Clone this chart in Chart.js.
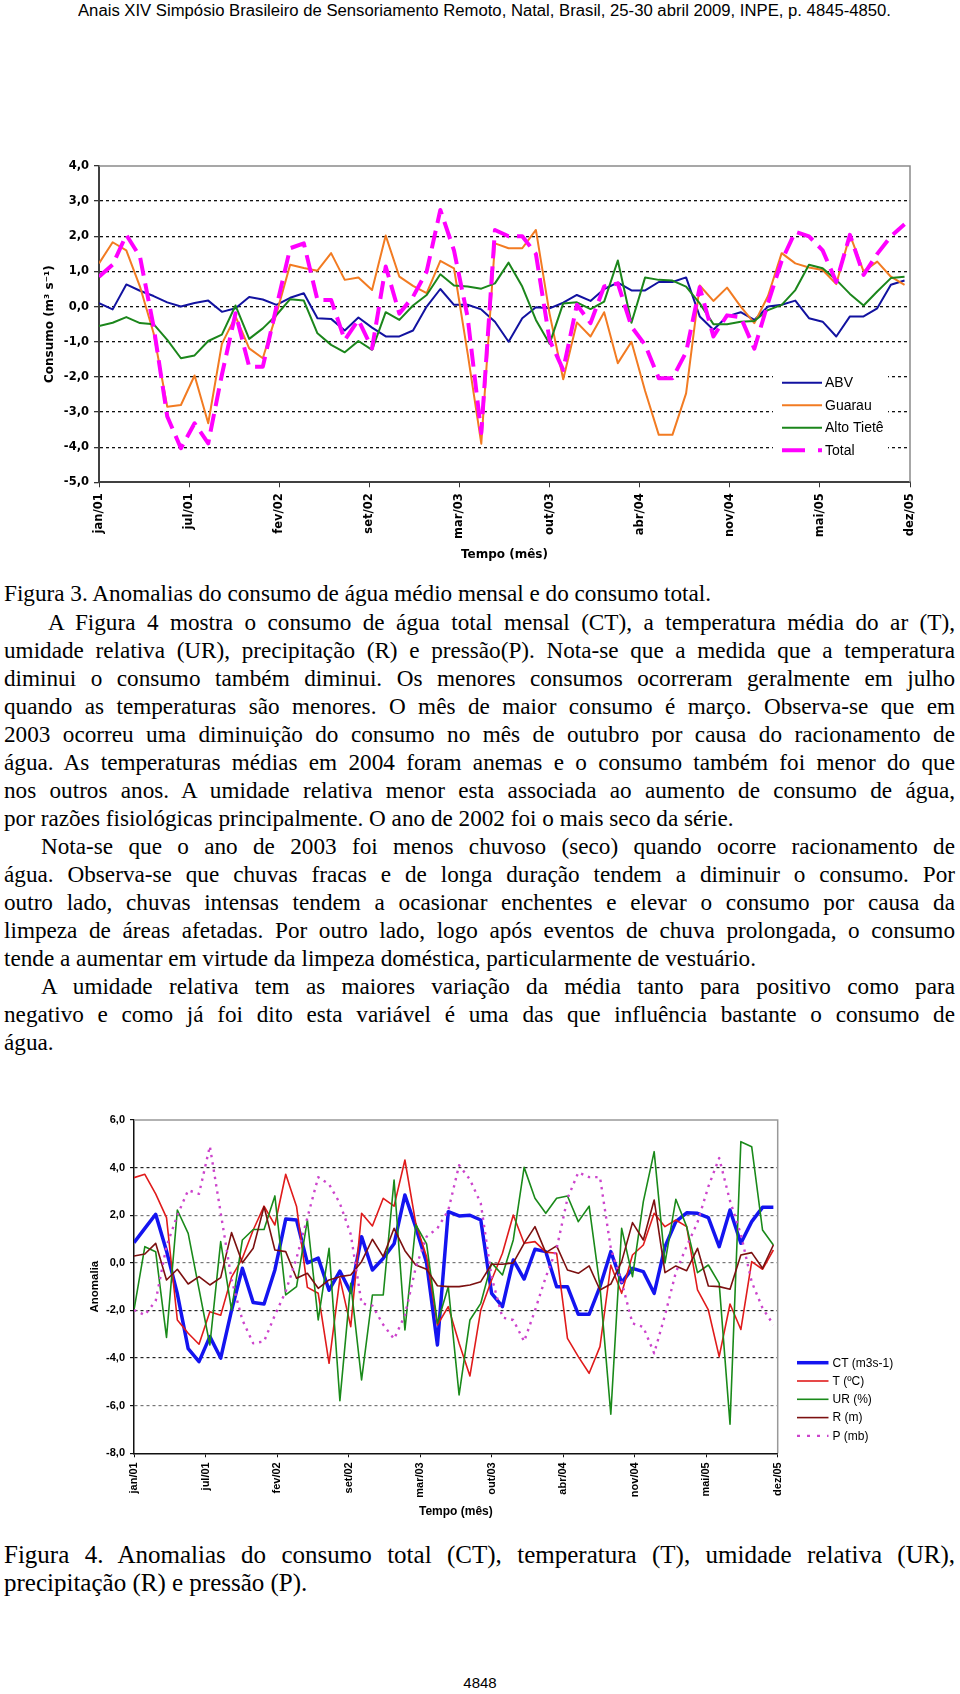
<!DOCTYPE html>
<html lang="pt-BR">
<head>
<meta charset="utf-8">
<title>Anomalias do consumo de água</title>
<script src="https://cdn.jsdelivr.net/npm/chart.js@4.4.1/dist/chart.umd.min.js"></script>
<style>
  html, body { margin: 0; padding: 0; background: #fff; }
  body { position: relative; width: 960px; height: 1694px; overflow: hidden; color: #000; }
  canvas { position: absolute; left: 0; }
  .linha { position: absolute; white-space: nowrap; font-family: "Liberation Serif", "Times New Roman", serif; font-size: 23.2px; line-height: 28px; }
  .legenda4 { font-size: 25px; }
  .cabecalho { position: absolute; left: 78px; top: 1px; white-space: nowrap; font-family: "Liberation Sans", Arial, sans-serif; font-size: 16px; line-height: 20px; transform-origin: 0 50%; }
  .pagina { position: absolute; left: 0; width: 960px; top: 1673px; text-align: center; font-family: "Liberation Sans", Arial, sans-serif; font-size: 15px; line-height: 20px; }
</style>
</head>
<body>

<div class="cabecalho" id="cabecalho">Anais XIV Simpósio Brasileiro de Sensoriamento Remoto, Natal, Brasil, 25-30 abril 2009, INPE, p. 4845-4850.</div>

<canvas id="fig3" width="960" height="440" style="top:130px"></canvas>

<div class="linha" style="left:4px; top:579px"><span>Figura 3. Anomalias do consumo de água médio mensal e do consumo total.</span></div>
<div class="linha" data-w="907" style="left:48px; top:608px"><span>A Figura 4 mostra o consumo de água total mensal (CT), a temperatura média do ar (T),</span></div>
<div class="linha" data-w="951" style="left:4px; top:636px"><span>umidade relativa (UR), precipitação (R) e pressão(P). Nota-se que a medida que a temperatura</span></div>
<div class="linha" data-w="951" style="left:4px; top:664px"><span>diminui o consumo também diminui. Os menores consumos ocorreram geralmente em julho</span></div>
<div class="linha" data-w="951" style="left:4px; top:692px"><span>quando as temperaturas são menores. O mês de maior consumo é março. Observa-se que em</span></div>
<div class="linha" data-w="951" style="left:4px; top:720px"><span>2003 ocorreu uma diminuição do consumo no mês de outubro por causa do racionamento de</span></div>
<div class="linha" data-w="951" style="left:4px; top:748px"><span>água. As temperaturas médias em 2004 foram anemas e o consumo também foi menor do que</span></div>
<div class="linha" data-w="951" style="left:4px; top:776px"><span>nos outros anos. A umidade relativa menor esta associada ao aumento de consumo de água,</span></div>
<div class="linha" style="left:4px; top:804px"><span>por razões fisiológicas principalmente. O ano de 2002 foi o mais seco da série.</span></div>
<div class="linha" data-w="914" style="left:41px; top:832px"><span>Nota-se que o ano de 2003 foi menos chuvoso (seco) quando ocorre racionamento de</span></div>
<div class="linha" data-w="951" style="left:4px; top:860px"><span>água. Observa-se que chuvas fracas e de longa duração tendem a diminuir o consumo. Por</span></div>
<div class="linha" data-w="951" style="left:4px; top:888px"><span>outro lado, chuvas intensas tendem a ocasionar enchentes e elevar o consumo por causa da</span></div>
<div class="linha" data-w="951" style="left:4px; top:916px"><span>limpeza de áreas afetadas. Por outro lado, logo após eventos de chuva prolongada, o consumo</span></div>
<div class="linha" style="left:4px; top:944px"><span>tende a aumentar em virtude da limpeza doméstica, particularmente de vestuário.</span></div>
<div class="linha" data-w="914" style="left:41px; top:972px"><span>A umidade relativa tem as maiores variação da média tanto para positivo como para</span></div>
<div class="linha" data-w="951" style="left:4px; top:1000px"><span>negativo e como já foi dito esta variável é uma das que influência bastante o consumo de</span></div>
<div class="linha" style="left:4px; top:1028px"><span>água.</span></div>

<canvas id="fig4" width="960" height="450" style="top:1080px"></canvas>

<div class="linha legenda4" data-w="951" style="left:4px; top:1541px"><span>Figura 4. Anomalias do consumo total (CT), temperatura (T), umidade relativa (UR),</span></div>
<div class="linha legenda4" style="left:4px; top:1569px"><span>precipitação (R) e pressão (P).</span></div>

<div class="pagina">4848</div>

<script>
// Figura 3 - anomalias do consumo (m3/s), mensal, jan/01 a dez/05
const ABV = [0.10, -0.08, 0.63, 0.45, 0.30, 0.12, 0.00, 0.10, 0.17, -0.15,
  -0.05, 0.27, 0.20, 0.05, 0.25, 0.38, -0.33, -0.35, -0.68, -0.31,
  -0.60, -0.85, -0.85, -0.68, 0.00, 0.50, 0.05, 0.05, -0.08, -0.43,
  -1.00, -0.33, -0.02, -0.05, 0.11, 0.33, 0.16, 0.50, 0.68, 0.46,
  0.46, 0.70, 0.70, 0.83, -0.28, -0.66, -0.28, -0.16, -0.38, 0.00,
  0.05, 0.17, -0.33, -0.43, -0.85, -0.28, -0.28, -0.05, 0.62, 0.74];
const GUARAU = [1.23, 1.83, 1.60, 0.57, -0.76, -2.85, -2.80, -1.96, -3.32, -1.06,
  -0.28, -1.19, -1.47, -0.20, 1.19, 1.10, 1.02, 1.52, 0.76, 0.83,
  0.47, 2.02, 0.85, 0.59, 0.38, 1.30, 1.09, -1.33, -3.90, 1.80,
  1.66, 1.66, 2.18, -0.20, -2.07, -0.45, -0.85, -0.16, -1.61, -1.00,
  -2.40, -3.65, -3.65, -2.47, 0.60, 0.16, 0.54, 0.00, -0.47, 0.30,
  1.52, 1.23, 1.11, 1.04, 0.64, 2.04, 1.00, 1.28, 0.85, 0.62];
const ALTO_TIETE = [-0.55, -0.46, -0.30, -0.47, -0.50, -0.95, -1.47, -1.39, -0.98, -0.80,
  0.03, -0.92, -0.62, -0.24, 0.21, 0.17, -0.76, -1.09, -1.30, -0.98,
  -1.23, -0.16, -0.38, 0.03, 0.33, 0.92, 0.60, 0.57, 0.51, 0.66,
  1.25, 0.57, -0.38, -1.06, 0.09, 0.12, -0.07, 0.14, 1.31, -0.46,
  0.83, 0.76, 0.74, 0.57, 0.09, -0.50, -0.50, -0.43, -0.41, -0.10,
  0.05, 0.47, 1.19, 1.09, 0.76, 0.36, 0.03, 0.43, 0.81, 0.85];
const TOTAL = [0.85, 1.19, 2.04, 1.42, -0.57, -3.13, -4.03, -3.32, -3.89, -1.94,
  -0.19, -1.71, -1.71, 0.00, 1.66, 1.80, 0.19, 0.19, -0.95, -0.38,
  -1.19, 1.14, -0.20, 0.28, 1.00, 2.75, 1.60, -0.30, -3.60, 2.18,
  2.00, 2.00, 1.50, -0.95, -1.80, 0.05, -0.47, 0.57, 0.66, -0.57,
  -1.09, -2.04, -2.04, -1.30, 0.55, -0.85, -0.25, -0.30, -1.20, 0.10,
  1.30, 2.13, 2.00, 1.60, 0.70, 2.04, 0.90, 1.50, 2.00, 2.34];

// Figura 4 - anomalias do consumo total e das variaveis meteorologicas
const CT = [0.85, 1.45, 2.04, 0.50, -1.30, -3.60, -4.15, -3.10, -4.00, -2.00,
  -0.23, -1.67, -1.73, -0.30, 1.84, 1.80, 0.00, 0.20, -1.15, -0.35,
  -1.24, 1.10, -0.30, 0.19, 0.80, 2.85, 1.50, 0.00, -3.45, 2.15,
  1.97, 2.00, 1.80, -1.28, -1.84, 0.12, -0.68, 0.57, 0.47, -1.00,
  -1.00, -2.16, -2.16, -1.00, 0.47, -0.83, -0.23, -0.37, -1.28, 0.68,
  1.73, 2.10, 2.08, 1.90, 0.68, 2.22, 0.82, 1.73, 2.33, 2.33];
const TEMP = [3.58, 3.72, 2.90, 1.90, -2.40, -2.96, -3.42, -2.05, -2.20, -0.60,
  0.19, 1.38, 2.38, 1.59, 3.72, 2.37, -1.03, -1.28, -4.22, -0.65,
  -2.68, 2.08, 1.55, 2.71, 2.38, 4.32, 1.66, 0.26, -2.61, -1.84,
  -3.38, -4.75, -1.98, -0.72, 0.40, 2.01, 0.82, 0.89, 0.45, 0.40,
  -3.17, -3.94, -4.64, -3.52, -0.09, -1.28, 0.33, 0.75, 2.08, 1.52,
  1.80, 1.52, -1.14, -1.98, -3.94, -1.73, -2.80, 0.05, -0.27, 0.54];
const UR = [-1.98, 0.68, 0.47, -3.13, 2.22, 1.24, -1.10, -3.45, 0.89, -1.98,
  0.96, 1.40, 1.40, 2.81, -1.35, -1.00, 1.80, -2.40, 0.61, -5.79,
  -0.86, -4.92, -1.35, -1.35, 3.48, -2.82, 1.60, 0.80, -2.54, -1.00,
  -5.55, -2.40, -1.70, 0.00, -0.51, 0.96, 4.01, 2.71, 2.08, 2.71,
  2.81, 1.73, 2.38, -1.00, -6.36, 1.45, -0.58, 2.57, 4.67, 0.00,
  2.67, 1.52, -0.41, -0.09, -0.86, -6.78, 5.09, 4.88, 1.38, 0.75];
const PRECIP = [0.29, 0.37, 0.82, -0.72, -0.27, -0.89, -0.58, -0.93, -0.62, 1.27,
  0.00, 0.61, 2.36, 0.54, 0.47, -0.65, -0.44, -1.07, -0.72, -0.58,
  -0.51, 0.05, 0.99, 0.26, 1.45, 0.51, -0.09, -0.27, -0.96, -1.00,
  -1.00, -0.93, -0.79, -0.06, -0.06, 0.00, 0.82, 1.52, 0.43, 0.71,
  -0.30, -0.44, -0.13, -1.14, -0.89, 0.05, 1.69, 0.96, 2.64, -0.41,
  -0.13, -0.33, 0.61, -0.97, -1.00, -1.11, 0.33, 0.43, -0.23, 0.75];
const PRESSAO = [-1.98, -2.19, -1.60, 0.70, 2.00, 3.05, 2.90, 4.90, 2.10, -0.70,
  -2.40, -3.38, -3.30, -2.20, -1.20, 0.20, 1.90, 3.60, 3.30, 2.50,
  1.20, -1.70, -1.80, -2.60, -3.20, -2.20, -0.20, 1.10, 1.45, 2.20,
  4.10, 3.50, 2.50, -0.60, -2.30, -2.40, -3.30, -2.00, -0.60, 0.60,
  2.70, 3.80, 3.60, 3.60, 0.60, -0.80, -2.54, -2.70, -3.80, -2.20,
  -0.40, 0.70, 1.70, 3.20, 4.40, 2.60, 1.20, -0.80, -1.90, -2.60];

const ROTULOS_TEMPO = ['jan/01', 'jul/01', 'fev/02', 'set/02', 'mar/03', 'out/03', 'abr/04', 'nov/04', 'mai/05', 'dez/05'];
const X_MAX = 59.4;

function pontos(valores) {
    return valores.map(function(v, i) { return {x: i, y: v}; });
}

function virgula(v) {
    return v.toFixed(1).replace('.', ',');
}

// ticks do tempo igualmente espacados, como no grafico original
function ticksTempo(axis) {
    axis.ticks = ROTULOS_TEMPO.map(function(_, k) {
        return {value: k * X_MAX / (ROTULOS_TEMPO.length - 1)};
    });
}

// moldura cinza em cima e a direita da area do grafico
const moldura = {
    id: 'moldura',
    beforeDatasetsDraw: function(chart, args, o) {
        const a = chart.chartArea, ctx = chart.ctx;
        ctx.save();
        ctx.strokeStyle = o.cor;
        ctx.lineWidth = o.largura;
        ctx.beginPath();
        ctx.moveTo(a.left, a.top);
        ctx.lineTo(a.right, a.top);
        ctx.lineTo(a.right, a.bottom);
        ctx.stroke();
        ctx.restore();
    }
};

// legenda desenhada na posicao do original
const legenda = {
    id: 'legenda',
    afterDatasetsDraw: function(chart, args, o) {
        const ctx = chart.ctx;
        ctx.save();
        if (o.fundoW) {
            ctx.fillStyle = '#fff';
            ctx.fillRect(o.fundoX, o.fundoY, o.fundoW, o.fundoH);
        }
        ctx.font = o.fonte;
        ctx.textBaseline = 'middle';
        ctx.textAlign = 'left';
        chart.data.datasets.forEach(function(ds, i) {
            const y = o.y + i * o.passo;
            ctx.save();
            ctx.strokeStyle = ds.borderColor;
            ctx.lineWidth = ds.borderWidth;
            ctx.setLineDash(ds.legendDash || []);
            ctx.beginPath();
            ctx.moveTo(o.x, y);
            ctx.lineTo(o.x + o.amostra, y);
            ctx.stroke();
            ctx.restore();
            ctx.fillStyle = '#000';
            ctx.fillText(ds.label, o.x + o.amostra + o.espaco, y + 0.5);
        });
        ctx.restore();
    }
};

Chart.defaults.color = '#000';

// Figura 3
const f3Fonte = {family: '"DejaVu Sans", sans-serif', size: 11.5, weight: 'bold'};
new Chart(document.getElementById('fig3'), {
    type: 'line',
    data: {
        datasets: [
            {label: 'ABV', data: pontos(ABV), borderColor: '#1212a0', borderWidth: 2, order: 3},
            {label: 'Guarau', data: pontos(GUARAU), borderColor: '#f27b22', borderWidth: 2, order: 2},
            {label: 'Alto Tietê', data: pontos(ALTO_TIETE), borderColor: '#1b861b', borderWidth: 2, order: 1},
            {label: 'Total', data: pontos(TOTAL), borderColor: '#ff00ff', borderWidth: 4,
             borderDash: [18, 8], legendDash: [23, 13], order: 0}
        ]
    },
    options: {
        responsive: false,
        animation: false,
        layout: {padding: {top: 36, right: 50, bottom: 0, left: 0}},
        elements: {point: {radius: 0}, line: {tension: 0, borderJoinStyle: 'round', fill: false}},
        plugins: {
            legend: {display: false},
            tooltip: {enabled: false},
            moldura: {cor: '#8a8a8a', largura: 1.5},
            legenda: {x: 782, y: 252.7, passo: 22.5, amostra: 40, espaco: 3,
                      fonte: '14px "Liberation Sans", Arial, sans-serif',
                      fundoX: 773, fundoY: 233, fundoW: 115, fundoH: 102}
        },
        scales: {
            x: {
                type: 'linear',
                min: 0,
                max: X_MAX,
                afterBuildTicks: ticksTempo,
                afterFit: function(s) { s.height = 87.7; },
                ticks: {
                    autoSkip: false, minRotation: 90, maxRotation: 90, padding: 6,
                    font: f3Fonte,
                    callback: function(v, i) { return ROTULOS_TEMPO[i]; }
                },
                grid: {drawOnChartArea: false, drawTicks: true, tickLength: 5, tickColor: '#333'},
                border: {color: '#404040', width: 2},
                title: {display: true, text: 'Tempo (mês)', font: {family: '"DejaVu Sans", sans-serif', size: 12, weight: 'bold'},
                        padding: {top: 0, bottom: 7.8}}
            },
            y: {
                min: -5,
                max: 4,
                afterFit: function(s) { s.width = 99; },
                ticks: {stepSize: 1, padding: 5, font: f3Fonte, callback: virgula},
                grid: {
                    color: function(c) { return (c.tick.value === 4 || c.tick.value === -5) ? 'rgba(0,0,0,0)' : '#111'; },
                    lineWidth: 1.3, tickColor: '#333', tickLength: 5
                },
                border: {color: '#404040', width: 2, dash: [3, 3]},
                title: {display: true, text: 'Consumo (m³ s⁻¹)', font: {family: '"DejaVu Sans", sans-serif', size: 12, weight: 'bold'},
                        padding: {top: 43, bottom: 0}}
            }
        }
    },
    plugins: [moldura, legenda]
});

// Figura 4
const f4Fonte = {family: '"Liberation Sans", Arial, sans-serif', size: 11, weight: 'bold'};
new Chart(document.getElementById('fig4'), {
    type: 'line',
    data: {
        datasets: [
            {label: 'CT (m3s-1)', data: pontos(CT), borderColor: '#1414f0', borderWidth: 3.5, order: 4},
            {label: 'T (ºC)', data: pontos(TEMP), borderColor: '#e01b1b', borderWidth: 1.6, order: 3},
            {label: 'UR (%)', data: pontos(UR), borderColor: '#1a8a1a', borderWidth: 1.6, order: 2},
            {label: 'R (m)', data: pontos(PRECIP), borderColor: '#7c1010', borderWidth: 1.6, order: 1},
            {label: 'P (mb)', data: pontos(PRESSAO), borderColor: '#cc44cc', borderWidth: 2.4,
             borderDash: [2.4, 5], legendDash: [3, 7], order: 0}
        ]
    },
    options: {
        responsive: false,
        animation: false,
        layout: {padding: {top: 40, right: 182.3, bottom: 0, left: 0}},
        elements: {point: {radius: 0}, line: {tension: 0, borderJoinStyle: 'round', fill: false}},
        plugins: {
            legend: {display: false},
            tooltip: {enabled: false},
            moldura: {cor: '#999', largura: 1.5},
            legenda: {x: 797, y: 282.7, passo: 18.3, amostra: 31.5, espaco: 4,
                      fonte: '12px "Liberation Sans", Arial, sans-serif'}
        },
        scales: {
            x: {
                type: 'linear',
                min: 0,
                max: X_MAX,
                afterBuildTicks: ticksTempo,
                afterFit: function(s) { s.height = 76.7; },
                ticks: {
                    autoSkip: false, minRotation: 90, maxRotation: 90, padding: 5,
                    font: f4Fonte,
                    callback: function(v, i) { return ROTULOS_TEMPO[i]; }
                },
                grid: {drawOnChartArea: false, drawTicks: true, tickLength: 4, tickColor: '#111'},
                border: {color: '#111', width: 1.5},
                title: {display: true, text: 'Tempo (mês)', font: {family: '"Liberation Sans", Arial, sans-serif', size: 12, weight: 'bold'},
                        padding: {top: 0, bottom: 10.8}}
            },
            y: {
                min: -8,
                max: 6,
                afterFit: function(s) { s.width = 134; },
                ticks: {stepSize: 2, padding: 5, font: f4Fonte, callback: virgula},
                grid: {
                    color: function(c) {
                        const v = c.tick.value;
                        if (v === 6 || v === -8) return 'rgba(0,0,0,0)';
                        return (v === 2 || v === 0 || v === -6) ? '#777' : '#222';
                    },
                    lineWidth: 1.2, tickColor: '#111', tickLength: 4
                },
                border: {color: '#111', width: 1.5, dash: [3, 3]},
                title: {display: true, text: 'Anomalia', font: {family: '"Liberation Sans", Arial, sans-serif', size: 11.5, weight: 'bold'},
                        padding: {top: 88, bottom: 0}}
            }
        }
    },
    plugins: [moldura, legenda]
});

// texto justificado linha a linha, como na pagina original
document.querySelectorAll('.linha[data-w]').forEach(function(el) {
    const span = el.firstElementChild;
    const natural = span.getBoundingClientRect().width;
    const espacos = (span.textContent.match(/ /g) || []).length;
    if (espacos) span.style.wordSpacing = ((+el.dataset.w - natural) / espacos) + 'px';
});

const cab = document.getElementById('cabecalho');
cab.style.transform = 'scaleX(' + (813 / cab.getBoundingClientRect().width) + ')';
</script>
</body>
</html>
